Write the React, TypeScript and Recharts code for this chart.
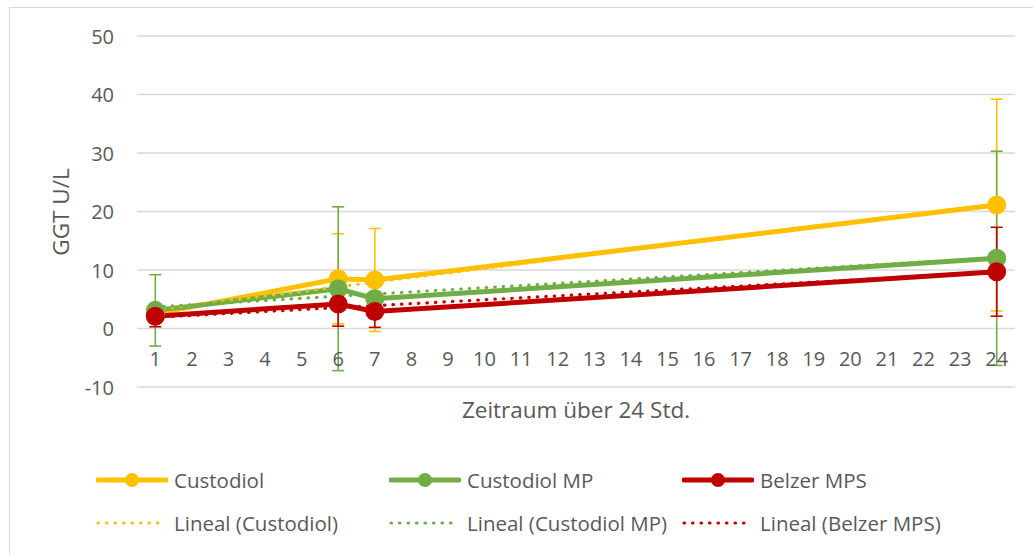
import React from "react"
import { LineChart, Line, XAxis, YAxis, CartesianGrid, ErrorBar } from "recharts"

const hours = Array.from({ length: 24 }, (_, i) => String(i + 1))
const yTicks = [-10, 0, 10, 20, 30, 40, 50]

// measured hours and group means (GGT U/L) with standard deviation
const measuredHours = ["1", "6", "7", "24"]
const custodiol = [2.5, 8.5, 8.3, 21.1]
const custodiolErr = [0.8, 7.7, 8.8, 18.1]
const custodiolMP = [3.1, 6.8, 5.1, 12.0]
const custodiolMPErr = [6.1, 14.0, 1.2, 18.3]
const belzer = [2.1, 4.2, 2.9, 9.7]
const belzerErr = [1.8, 3.8, 2.7, 7.6]

// linear trend lines, values read at first and last hour
const trendHours = ["1", "24"]
const trendCustodiol = [3.2, 21.3]
const trendCustodiolMP = [3.7, 12.1]
const trendBelzer = [1.9, 9.6]

const YELLOW = "#FFC000"
const GREEN = "#70AD47"
const RED = "#C00000"
const TEXT = "#595959"
const GRID = "#D9D9D9"
const FONT = "'Open Sans', sans-serif"

const data = hours.map((h) => {
  const m = measuredHours.indexOf(h)
  const t = trendHours.indexOf(h)
  return {
    hour: h,
    c: m >= 0 ? custodiol[m] : null,
    cErr: m >= 0 ? custodiolErr[m] : null,
    mp: m >= 0 ? custodiolMP[m] : null,
    mpErr: m >= 0 ? custodiolMPErr[m] : null,
    b: m >= 0 ? belzer[m] : null,
    bErr: m >= 0 ? belzerErr[m] : null,
    tc: t >= 0 ? trendCustodiol[t] : null,
    tmp: t >= 0 ? trendCustodiolMP[t] : null,
    tb: t >= 0 ? trendBelzer[t] : null,
  }
})

function XTick(props: any) {
  const { x, y, payload } = props
  return (
    <text x={x} y={y - 37} textAnchor="middle" dominantBaseline="central" fill={TEXT} fontSize={20} fontFamily={FONT}>
      {payload.value}
    </text>
  )
}

function YTick(props: any) {
  const { y, payload } = props
  return (
    <text x={114} y={y} textAnchor="end" dominantBaseline="central" fill={TEXT} fontSize={20} fontFamily={FONT}>
      {payload.value}
    </text>
  )
}

const legendRows = [
  [
    { name: "Custodiol", color: YELLOW, dotted: false },
    { name: "Custodiol MP", color: GREEN, dotted: false },
    { name: "Belzer MPS", color: RED, dotted: false },
  ],
  [
    { name: "Lineal (Custodiol)", color: YELLOW, dotted: true },
    { name: "Lineal (Custodiol MP)", color: GREEN, dotted: true },
    { name: "Lineal (Belzer MPS)", color: RED, dotted: true },
  ],
]

function LegendIcon({ color, dotted }: { color: string; dotted: boolean }) {
  return (
    <svg width={72} height={20} style={{ display: "block" }}>
      {dotted ? (
        <line x1={2} y1={10} x2={70} y2={10} stroke={color} strokeWidth={3.2} strokeLinecap="round" strokeDasharray="0.5 8" />
      ) : (
        <>
          <line x1={2} y1={10} x2={70} y2={10} stroke={color} strokeWidth={5} strokeLinecap="round" />
          <circle cx={36} cy={10} r={7} fill={color} />
        </>
      )}
    </svg>
  )
}

export default function App() {
  return (
    <div style={{ position: "absolute", left: 0, top: 0, width: 1033, height: 555, background: "#fff", overflow: "hidden" }}>
      <div style={{ position: "absolute", left: 9, top: 7, width: 1100, height: 600, borderLeft: `1px solid ${GRID}`, borderTop: `1px solid ${GRID}` }} />
      <LineChart width={1033} height={555} data={data} margin={{ top: 36, right: 18, bottom: 138, left: 0 }}>
        <CartesianGrid stroke={GRID} strokeWidth={1.5} vertical={false} />
        <XAxis
          dataKey="hour"
          height={30}
          axisLine={false}
          tickLine={false}
          interval={0}
          padding={{ left: 18.3, right: 18.3 }}
          tick={<XTick />}
          label={{
            content: () => (
              <text x={576} y={409} textAnchor="middle" dominantBaseline="central" fill={TEXT} fontSize={22.5} fontFamily={FONT}>
                Zeitraum über 24 Std.
              </text>
            ),
          }}
        />
        <YAxis
          width={137}
          domain={[-10, 50]}
          ticks={yTicks}
          axisLine={false}
          tickLine={false}
          tick={<YTick />}
          label={{
            content: () => (
              <text x={60} y={212} transform="rotate(-90 60 212)" textAnchor="middle" dominantBaseline="central" fill={TEXT} fontSize={22.5} fontFamily={FONT}>
                GGT U/L
              </text>
            ),
          }}
        />
        <Line dataKey="c" stroke={YELLOW} strokeWidth={5} connectNulls isAnimationActive={false} dot={{ r: 7, fill: YELLOW, stroke: YELLOW }} activeDot={false}>
          <ErrorBar dataKey="cErr" width={6} stroke={YELLOW} strokeWidth={1.6} direction="y" />
        </Line>
        <Line dataKey="mp" stroke={GREEN} strokeWidth={5} connectNulls isAnimationActive={false} dot={{ r: 7, fill: GREEN, stroke: GREEN }} activeDot={false}>
          <ErrorBar dataKey="mpErr" width={6} stroke={GREEN} strokeWidth={1.6} direction="y" />
        </Line>
        <Line dataKey="b" stroke={RED} strokeWidth={5} connectNulls isAnimationActive={false} dot={{ r: 7, fill: RED, stroke: RED }} activeDot={false}>
          <ErrorBar dataKey="bErr" width={6} stroke={RED} strokeWidth={1.6} direction="y" />
        </Line>
        <Line dataKey="tc" stroke={YELLOW} strokeWidth={3.2} strokeLinecap="round" strokeDasharray="0.5 8" connectNulls dot={false} activeDot={false} isAnimationActive={false} />
        <Line dataKey="tmp" stroke={GREEN} strokeWidth={3.2} strokeLinecap="round" strokeDasharray="0.5 8" connectNulls dot={false} activeDot={false} isAnimationActive={false} />
        <Line dataKey="tb" stroke={RED} strokeWidth={3.2} strokeLinecap="round" strokeDasharray="0.5 8" connectNulls dot={false} activeDot={false} isAnimationActive={false} />
      </LineChart>
      {legendRows.map((row, ri) => (
        <div key={ri} style={{ position: "absolute", left: 0, top: ri === 0 ? 468 : 511, height: 24 }}>
          {row.map((item, ci) => (
            <div
              key={item.name}
              style={{ position: "absolute", left: 96 + ci * 293, top: 0, display: "flex", alignItems: "center", height: 24, whiteSpace: "nowrap" }}
            >
              <LegendIcon color={item.color} dotted={item.dotted} />
              <span style={{ marginLeft: 6, color: TEXT, fontSize: 20.5, fontFamily: FONT }}>{item.name}</span>
            </div>
          ))}
        </div>
      ))}
    </div>
  )
}
